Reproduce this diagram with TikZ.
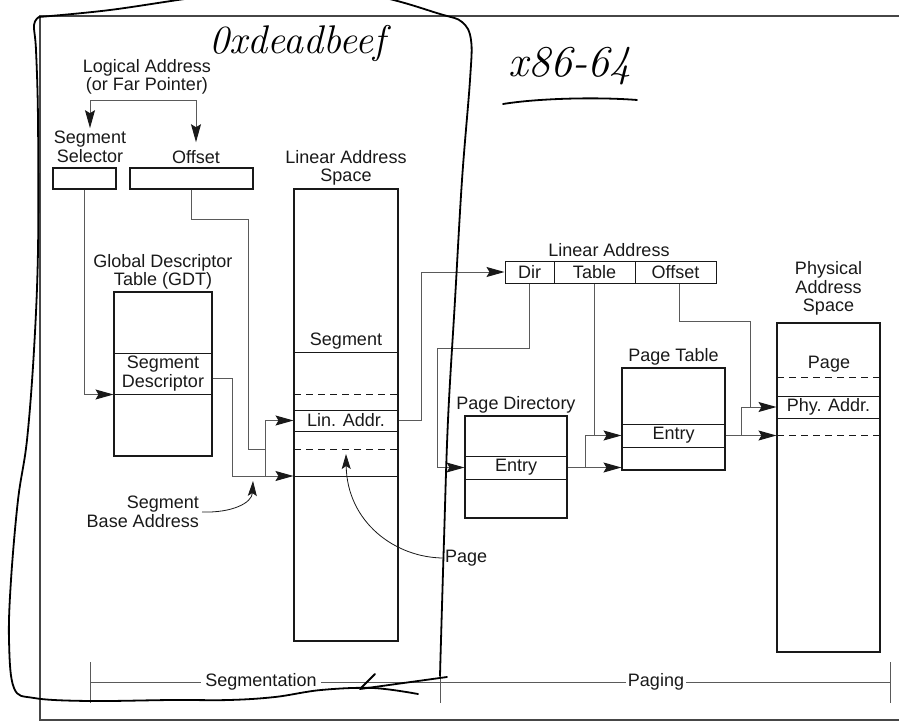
\documentclass[tikz,border=0pt]{standalone}
\usepackage{fontspec}
\usepackage{tikz}
\usetikzlibrary{arrows.meta,positioning,calc}
\newfontfamily\labelfont{Liberation Sans}
\definecolor{inkBlack}{RGB}{25,25,25}
\definecolor{wireGray}{RGB}{90,90,90}
\definecolor{frameGray}{RGB}{70,70,70}
\tikzset{
  lbl/.style={font=\labelfont\fontsize{18}{18.5}\selectfont,align=center,inner sep=1pt,text=inkBlack},
  memory box/.style={draw=inkBlack,line width=1.1pt,inner sep=0pt},
  memory row/.style={draw=inkBlack,line width=1pt,inner sep=0pt,font=\labelfont\fontsize{18}{18.5}\selectfont,align=center,text=inkBlack},
  row line/.style={draw=inkBlack,line width=1pt},
  row dash/.style={draw=inkBlack,line width=1pt,dash pattern=on 7pt off 5pt},
  link/.style={draw=wireGray,line width=1pt},
  thin link/.style={draw=inkBlack,line width=0.8pt},
  link arrow/.style={-{Stealth[length=18pt,width=10pt,inset=3pt,color=inkBlack,fill=inkBlack]}},
  small arrow/.style={-{Stealth[length=15pt,width=9pt,inset=3pt,color=inkBlack,fill=inkBlack]}},
  dim line/.style={draw=wireGray,line width=1pt},
  frame line/.style={draw=frameGray,line width=1.3pt},
  hand/.style={draw=black,line width=1.8pt,line cap=round,line join=round},
  hand note/.style={font=\itshape\fontsize{40}{40}\selectfont,inner sep=0pt}
}
\begin{document}
\begin{tikzpicture}[x=1pt,y=-1pt]
  \useasboundingbox (0,0) rectangle (899,722);
  \draw[frame line] (905,16) -- (40,16) -- (40,720) -- (905,720);

  % logical address
  \node[lbl] (logical) at (147,77) {Logical Address\\(or Far Pointer)};
  \coordinate (fork) at (147,101);
  \node[lbl] (selLabel) at (90,147) {Segment\\Selector};
  \node[lbl] (offLabel) at (196,157) {Offset};
  \node[memory box,minimum width=63pt,minimum height=21pt] (selector) at (84.5,178.5) {};
  \node[memory box,minimum width=123pt,minimum height=21pt] (offset) at (191.5,178.5) {};
  \draw[link,link arrow] (fork) -| ([yshift=2pt]selLabel.north);
  \draw[link,link arrow,shorten >=7pt] (fork) -| (offLabel.north);

  % GDT
  \node[memory box,minimum width=98pt,minimum height=164pt] (gdt) at (163,374) {};
  \node[lbl,above=1pt of gdt] (gdtTitle) {Global Descriptor\\Table (GDT)};
  \node[memory row,minimum width=98pt,minimum height=41pt] (gdtdesc) at (163,373.5) {Segment\\Descriptor};

  % linear address space
  \node[memory box,minimum width=104pt,minimum height=452pt] (las) at (346,415) {};
  \node[lbl] (lasTitle) at (346,168) {Linear Address\\Space};
  \node[lbl] (segText) at (346,341) {Segment};
  \draw[row line] (294,352) -- (398,352);
  \draw[row dash] (294,394) -- (398,394);
  \node[memory row,minimum width=104pt,minimum height=21pt] (linaddr) at (346,420.5) {Lin. Addr.};
  \draw[row dash] (294,449) -- (398,449);
  \draw[row line] (294,476) -- (398,476);
  \coordinate (jn) at (265,476);
  \coordinate (segbase) at (las.west |- jn);

  \draw[link,link arrow] (selector.south) |- (gdtdesc.south west);
  \draw[link,link arrow] ([yshift=-5pt]gdtdesc.east) -| (232,476) -- (segbase);
  \draw[link,link arrow] (jn) |- (linaddr.west);
  \draw[link] (offset.south) |- (248,219) |- (265,449);

  % segment base address
  \node[lbl,align=right,anchor=east] (sbaLabel) at (200,512) {Segment\\Base Address};
  \coordinate (sbaTip) at (253,481);
  \draw[thin link,small arrow] ([xshift=2pt]sbaLabel.east) .. controls (232,513) and (252,503) .. (sbaTip);

  % page pointer
  \node[lbl,anchor=west] (pageLabel) at (444,558) {Page};
  \coordinate (pageTip) at (346,454);
  \draw[thin link,small arrow] (pageLabel.west) .. controls (395,558) and (347,522) .. (pageTip);

  % linear address fields
  \node[lbl] (linTitle) at (609,250) {Linear Address};
  \node[memory row,minimum width=49pt,minimum height=22pt] (dirf) at (529.5,272) {Dir};
  \node[memory row,minimum width=81pt,minimum height=22pt] (tablef) at (594.5,272) {Table};
  \node[memory row,minimum width=81pt,minimum height=22pt] (offf) at (675.5,272) {Offset};
  \draw[link,link arrow] (linaddr.east) -| (421,272) -- (dirf.west);

  % page directory
  \node[memory box,minimum width=102pt,minimum height=102pt] (pd) at (516,467) {};
  \node[lbl,above=1pt of pd] (pdTitle) {Page Directory};
  \node[memory row,minimum width=102pt,minimum height=23pt] (pdentry) at (516,467.5) {Entry};
  \draw[link,link arrow] (dirf.south) |- (437,348) |- (pdentry.west);

  % page table
  \node[memory box,minimum width=103pt,minimum height=102pt] (pt) at (673.5,419) {};
  \node[lbl,above=1pt of pt] (ptTitle) {Page Table};
  \node[memory row,minimum width=103pt,minimum height=23pt] (ptentry) at (673.5,435.5) {Entry};
  \coordinate (pdfork) at ($(pdentry.east)+(18,0)$);
  \draw[link,link arrow] (pdentry.east) -- (pdentry.east -| pt.west);
  \draw[link,link arrow] (pdfork) |- (ptentry.west);
  \draw[link] (tablef.south) -- (tablef.south |- ptentry.west);

  % physical address space
  \node[memory box,minimum width=103pt,minimum height=329pt] (pas) at (828.5,487.5) {};
  \node[lbl,above=6pt of pas] (pasTitle) {Physical\\Address\\Space};
  \node[lbl] (pageText) at (829,364) {Page};
  \draw[row dash] (777,377) -- (880,377);
  \node[memory row,minimum width=103pt,minimum height=22pt] (phyaddr) at (828.5,407) {Phy. Addr.};
  \draw[row dash] (777,435) -- (880,435);
  \coordinate (ptfork) at ($(ptentry.east)+(16,0)$);
  \draw[link,link arrow] (ptentry.east) -- (ptentry.east -| pas.west);
  \draw[link,link arrow] (ptfork) |- (phyaddr.west);
  \draw[link] ([xshift=4pt]offf.south) |- (750,321) -- (750,407);

  % segmentation / paging
  \draw[dim line] (90,662) -- (90,703);
  \draw[dim line] (440,662) -- (440,703);
  \draw[dim line] (890,662) -- (890,703);
  \draw[dim line] (90,682) -- (890,682);
  \node[lbl,fill=white,inner sep=4pt] (segmLabel) at (261,682) {Segmentation};
  \node[lbl,fill=white,inner sep=2pt] (pagingLabel) at (656,682) {Paging};

  % hand notes
  \node[hand note] (hexNote) at (297,44) {0xdeadbeef};
  \node[hand note,font=\itshape\fontsize{44}{44}\selectfont] (archNote) at (570,66) {x86-64};
  \draw[hand] (503,104) .. controls (540,98) and (600,97) .. (637,100);
  \draw[hand] plot[smooth,tension=0.6] coordinates {(39,17) (110,10) (200,-3) (290,-12) (375,-4) (440,14) (462,22) (471,40) (470,80) (462,180) (455,300) (448,420) (444,540) (441,640) (440,676)};
  \draw[hand] (375,674) -- (360,689) -- (447,677);
  \draw[hand] plot[smooth,tension=0.6] coordinates {(418,694) (373,688) (321,690) (275,697) (229,700) (172,700) (89,701) (34,698) (14,688) (9,640) (11,580) (18,500) (27,440) (34,350) (38,250) (38,120) (36,50) (34,25) (39,17)};
\end{tikzpicture}
\end{document}
